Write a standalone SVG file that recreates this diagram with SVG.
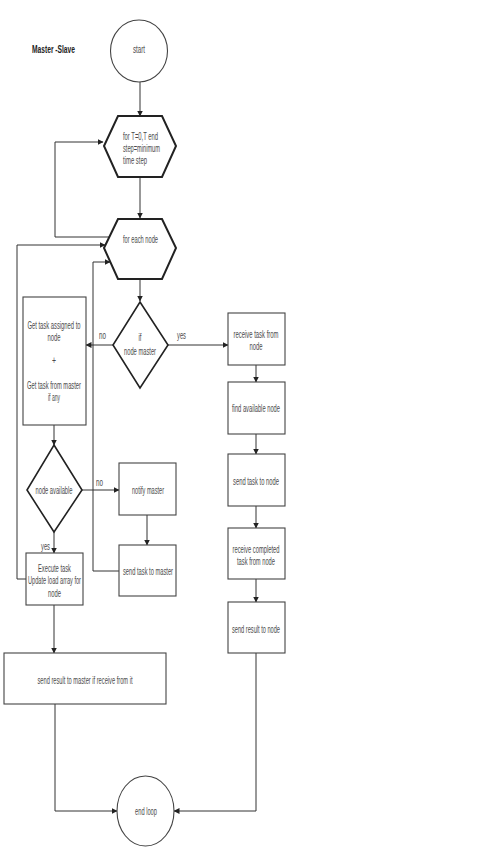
<svg xmlns="http://www.w3.org/2000/svg" width="489" height="851" viewBox="0 0 489 851">
<style>
.hex{fill:#fff;stroke:#222;stroke-width:2}
.dia{fill:#fff;stroke:#222;stroke-width:1.6}
.box{fill:#fff;stroke:#444;stroke-width:1.1}
.term{fill:#fff;stroke:#444;stroke-width:1.1}
.t{font-family:"Liberation Sans",Arial,sans-serif;font-size:10px;fill:#4a4a4a;text-anchor:middle}
.tl{font-family:"Liberation Sans",Arial,sans-serif;font-size:10px;fill:#4a4a4a}
.c{fill:none;stroke:#333;stroke-width:1}
.ttl{font-family:"Liberation Sans",Arial,sans-serif;font-size:10.5px;font-weight:bold;fill:#222}
</style>
<defs>
<marker id="ah" markerWidth="6" markerHeight="6" refX="5.5" refY="3" orient="auto" markerUnits="userSpaceOnUse">
<path d="M0,0 L6,3 L0,6 z" fill="#222"/>
</marker>
</defs>
<rect width="489" height="851" fill="#fff"/>
<text class="ttl" x="32" y="53" textLength="43" lengthAdjust="spacingAndGlyphs">Master -Slave</text>

<g id="connectors">
<line class="c" x1="140" y1="82" x2="140" y2="116" marker-end="url(#ah)"/>
<line class="c" x1="140" y1="177" x2="140" y2="218" marker-end="url(#ah)"/>
<path class="c" d="M109,237 H55 V142 H103" marker-end="url(#ah)"/>
<line class="c" x1="140" y1="279" x2="140" y2="301" marker-end="url(#ah)"/>
<line class="c" x1="113" y1="345" x2="86" y2="345" marker-end="url(#ah)"/>
<line class="c" x1="168" y1="345" x2="228" y2="345" marker-end="url(#ah)"/>
<line class="c" x1="54" y1="425" x2="54" y2="445" marker-end="url(#ah)"/>
<line class="c" x1="82" y1="490" x2="119" y2="490" marker-end="url(#ah)"/>
<line class="c" x1="147" y1="515" x2="147" y2="545" marker-end="url(#ah)"/>
<path class="c" d="M119,571 H93 V262 H110" marker-end="url(#ah)"/>
<line class="c" x1="54" y1="532" x2="54" y2="553" marker-end="url(#ah)"/>
<path class="c" d="M26,579 H17 V245 H105" marker-end="url(#ah)"/>
<line class="c" x1="54" y1="605" x2="54" y2="653" marker-end="url(#ah)"/>
<path class="c" d="M55,704 V811 H117" marker-end="url(#ah)"/>
<line class="c" x1="256" y1="365" x2="256" y2="382" marker-end="url(#ah)"/>
<line class="c" x1="256" y1="434" x2="256" y2="454" marker-end="url(#ah)"/>
<line class="c" x1="256" y1="506" x2="256" y2="528" marker-end="url(#ah)"/>
<line class="c" x1="256" y1="579" x2="256" y2="602" marker-end="url(#ah)"/>
<path class="c" d="M256,653 V811 H174" marker-end="url(#ah)"/>
<text class="tl" x="99" y="339" textLength="7" lengthAdjust="spacingAndGlyphs">no</text>
<text class="tl" x="177" y="339" textLength="9" lengthAdjust="spacingAndGlyphs">yes</text>
<text class="tl" x="96" y="486" textLength="7" lengthAdjust="spacingAndGlyphs">no</text>
<text class="tl" x="41" y="550" textLength="9" lengthAdjust="spacingAndGlyphs">yes</text>
</g>

<g id="start">
<ellipse class="term" cx="139" cy="51" rx="28.5" ry="31"/>
<text class="t" x="139" y="53" textLength="12" lengthAdjust="spacingAndGlyphs">start</text>
</g>

<g id="loopT">
<polygon class="hex" points="104,146 118,116 162,116 176,146 162,177 118,177"/>
<text class="tl" x="123" y="140" textLength="35" lengthAdjust="spacingAndGlyphs">for T=0,T end</text>
<text class="tl" x="123" y="152" textLength="37" lengthAdjust="spacingAndGlyphs">step=minimum</text>
<text class="tl" x="123" y="164" textLength="24" lengthAdjust="spacingAndGlyphs">time step</text>
</g>

<g id="loopNode">
<polygon class="hex" points="104,248 118,219 162,219 176,248 162,279 118,279"/>
<text class="tl" x="123" y="243" textLength="35" lengthAdjust="spacingAndGlyphs">for each node</text>
</g>

<g id="ifMaster">
<polygon class="dia" points="140,302 168,345 140,388 113,345"/>
<text class="t" x="140" y="341" textLength="3" lengthAdjust="spacingAndGlyphs">if</text>
<text class="t" x="140" y="355" textLength="32" lengthAdjust="spacingAndGlyphs">node master</text>
</g>

<g id="getTask">
<rect class="box" x="23" y="297" width="63" height="128"/>
<text class="t" x="54" y="329" textLength="53" lengthAdjust="spacingAndGlyphs">Get task assigned to</text>
<text class="t" x="54" y="341" textLength="13" lengthAdjust="spacingAndGlyphs">node</text>
<text class="t" x="54" y="364" textLength="4" lengthAdjust="spacingAndGlyphs">+</text>
<text class="t" x="54" y="389" textLength="54" lengthAdjust="spacingAndGlyphs">Get task from master</text>
<text class="t" x="54" y="401" textLength="12" lengthAdjust="spacingAndGlyphs">if any</text>
</g>

<g id="nodeAvailable">
<polygon class="dia" points="54,445 82,490 54,532 27,490"/>
<text class="t" x="54" y="494" textLength="37" lengthAdjust="spacingAndGlyphs">node available</text>
</g>

<g id="notifyMaster">
<rect class="box" x="119" y="463" width="57" height="52"/>
<text class="t" x="148" y="494" textLength="32" lengthAdjust="spacingAndGlyphs">notify master</text>
</g>

<g id="sendTaskMaster">
<rect class="box" x="119" y="545" width="57" height="51"/>
<text class="t" x="148" y="575" textLength="50" lengthAdjust="spacingAndGlyphs">send task to master</text>
</g>

<g id="execute">
<rect class="box" x="26" y="553" width="57" height="52"/>
<text class="t" x="54.5" y="572" textLength="33" lengthAdjust="spacingAndGlyphs">Execute task</text>
<text class="t" x="54.5" y="584" textLength="53" lengthAdjust="spacingAndGlyphs">Update load array for</text>
<text class="t" x="54.5" y="597" textLength="13" lengthAdjust="spacingAndGlyphs">node</text>
</g>

<g id="sendResultMaster">
<rect class="box" x="4" y="653" width="162" height="51"/>
<text class="t" x="85" y="684" textLength="95" lengthAdjust="spacingAndGlyphs">send result to master if receive from it</text>
</g>

<g id="receiveTask">
<rect class="box" x="228" y="313" width="57" height="52"/>
<text class="t" x="256" y="338" textLength="45" lengthAdjust="spacingAndGlyphs">receive task from</text>
<text class="t" x="256" y="350" textLength="13" lengthAdjust="spacingAndGlyphs">node</text>
</g>

<g id="findNode">
<rect class="box" x="228" y="382" width="57" height="52"/>
<text class="t" x="256" y="412" textLength="48" lengthAdjust="spacingAndGlyphs">find available node</text>
</g>

<g id="sendTaskNode">
<rect class="box" x="228" y="454" width="57" height="52"/>
<text class="t" x="256" y="485" textLength="46" lengthAdjust="spacingAndGlyphs">send task to node</text>
</g>

<g id="receiveCompleted">
<rect class="box" x="228" y="528" width="57" height="51"/>
<text class="t" x="256" y="553" textLength="47" lengthAdjust="spacingAndGlyphs">receive completed</text>
<text class="t" x="256" y="565" textLength="38" lengthAdjust="spacingAndGlyphs">task from node</text>
</g>

<g id="sendResultNode">
<rect class="box" x="228" y="602" width="57" height="51"/>
<text class="t" x="256" y="633" textLength="48" lengthAdjust="spacingAndGlyphs">send result to node</text>
</g>

<g id="endLoop">
<ellipse class="term" cx="145.5" cy="811" rx="28.5" ry="35"/>
<text class="t" x="146" y="815" textLength="22" lengthAdjust="spacingAndGlyphs">end loop</text>
</g>
</svg>
